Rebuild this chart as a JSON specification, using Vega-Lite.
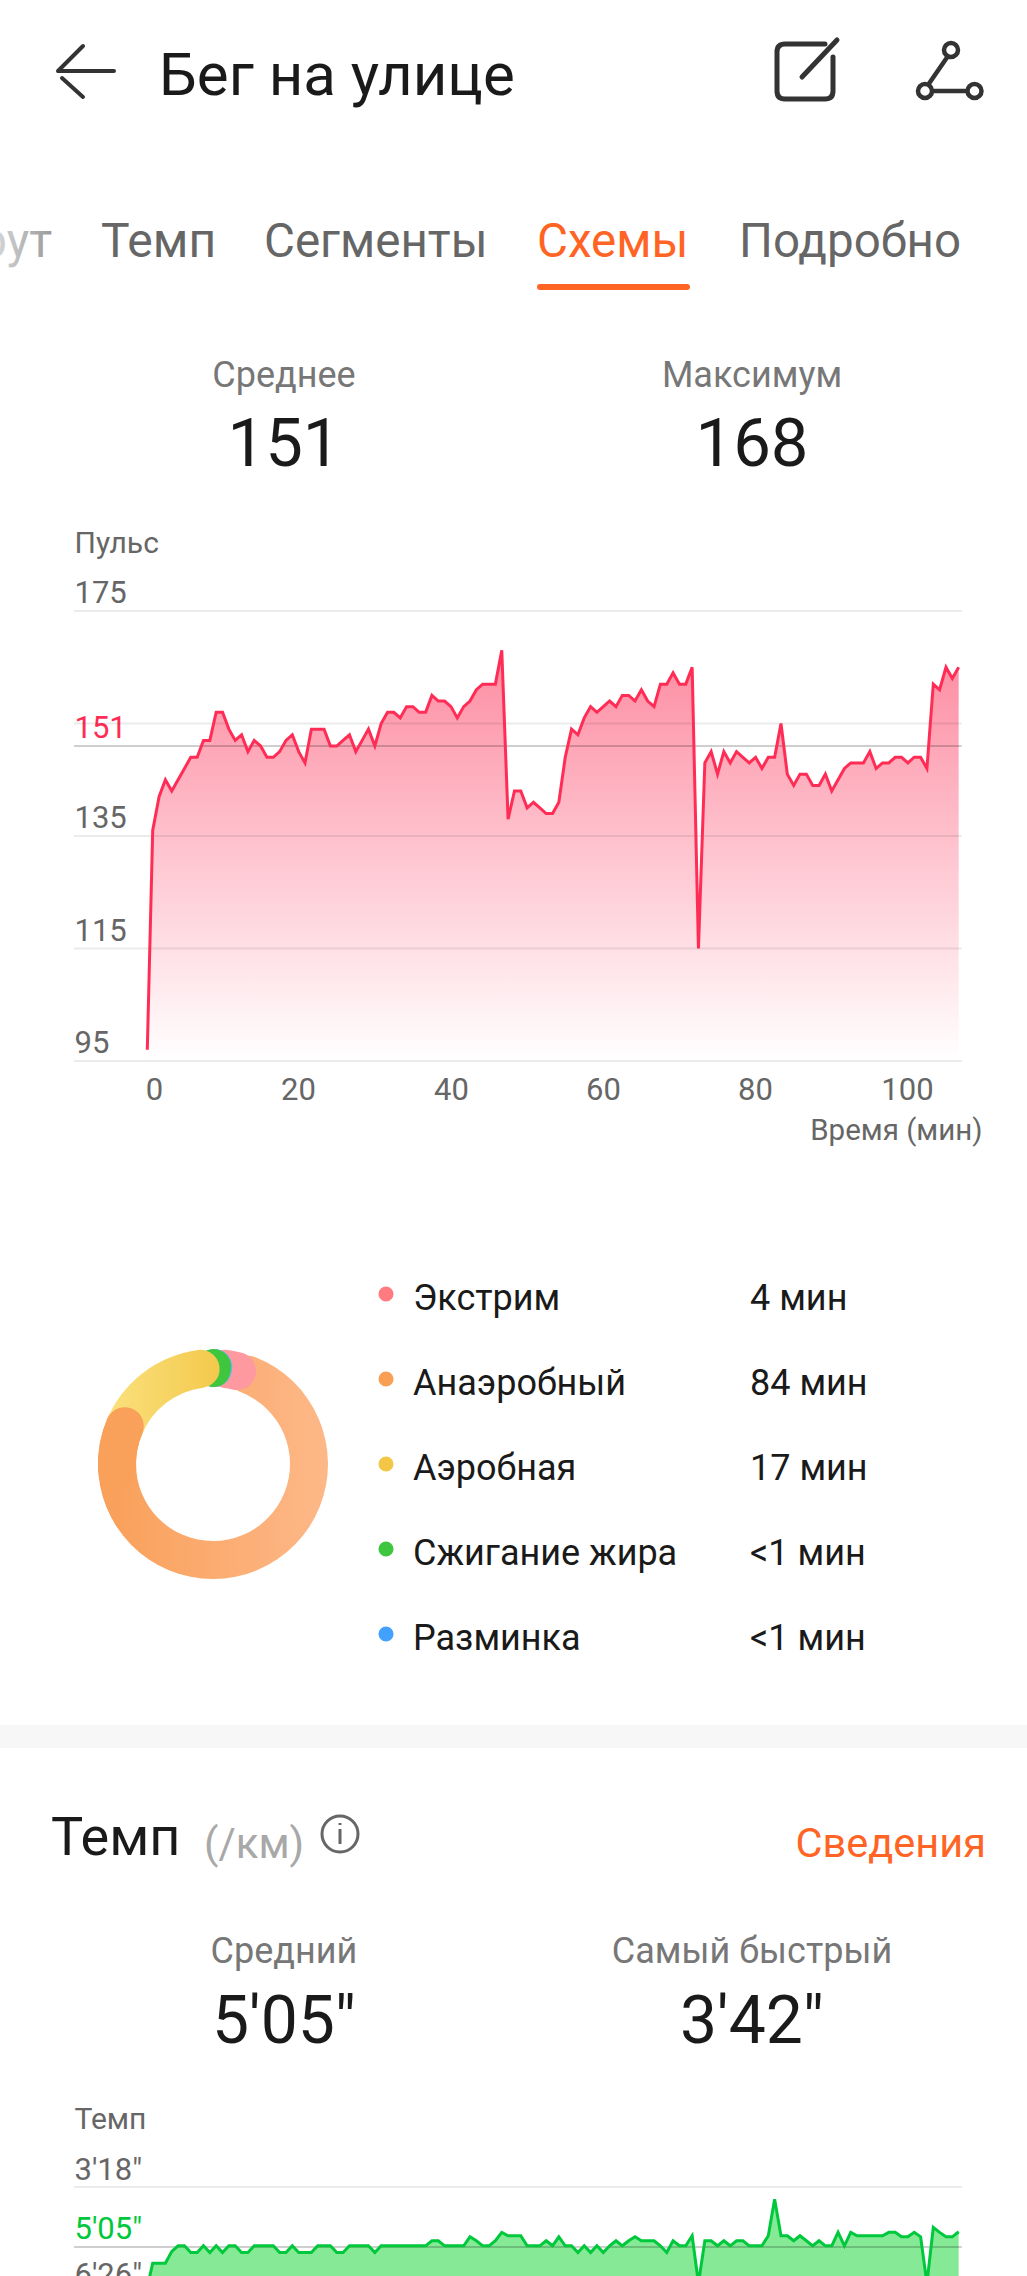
{
  "$schema": "https://vega.github.io/schema/vega-lite/v5.json",
  "background": "white",
  "padding": 0,
  "spacing": 0,
  "bounds": "flush",
  "resolve": {"scale": {"color": "independent"}},
  "config": {"view": {"stroke": null}, "font": "Roboto", "concat": {"spacing": 0}},
  "datasets": {
    "kpi1": [{"metric": "Среднее", "value": "151"}, {"metric": "Максимум", "value": "168"}],
    "kpi2": [{"metric": "Средний", "value": "5'05\""}, {"metric": "Самый быстрый", "value": "3'42\""}],
    "pulseLines": [
      {"level": 175, "kind": "grid"}, {"level": 155, "kind": "grid"}, {"level": 135, "kind": "grid"},
      {"level": 115, "kind": "grid"}, {"level": 95, "kind": "grid"}, {"level": 151, "kind": "avg"}
    ],
    "paceLines": [{"level": 198, "kind": "grid"}, {"level": 305, "kind": "avg"}],
    "arcs": [
      {"zone": "Анаэробный", "part": "main", "from": 10, "to": 304.6},
      {"zone": "Экстрим", "part": "main", "from": -4, "to": 26},
      {"zone": "Разминка", "part": "main", "from": -10, "to": 11.5},
      {"zone": "Сжигание жира", "part": "main", "from": -10, "to": 10.7},
      {"zone": "Аэробная", "part": "main", "from": -80, "to": 4},
      {"zone": "Анаэробный", "part": "cap", "from": 255, "to": 304.6}
    ],
    "zones": [
      {"zone": "Экстрим", "time": "4 мин"},
      {"zone": "Анаэробный", "time": "84 мин"},
      {"zone": "Аэробная", "time": "17 мин"},
      {"zone": "Сжигание жира", "time": "<1 мин"},
      {"zone": "Разминка", "time": "<1 мин"}
    ],
    "pulse": [
      {"t":0.04,"pulse":97},{"t":0.75,"pulse":136},{"t":1.59,"pulse":142},{"t":2.42,"pulse":145},{"t":3.26,"pulse":143},{"t":4.09,"pulse":145},{"t":4.93,"pulse":147},{"t":5.76,"pulse":149},{"t":6.6,"pulse":149},{"t":7.43,"pulse":152},{"t":8.27,"pulse":152},{"t":9.1,"pulse":157},{"t":9.94,"pulse":157},{"t":10.77,"pulse":154},{"t":11.61,"pulse":152},{"t":12.44,"pulse":153},{"t":13.28,"pulse":150},{"t":14.11,"pulse":152},{"t":14.95,"pulse":151},{"t":15.78,"pulse":149},{"t":16.62,"pulse":149},{"t":17.45,"pulse":150},{"t":18.29,"pulse":152},{"t":19.12,"pulse":153},{"t":19.96,"pulse":150},{"t":20.79,"pulse":148},{"t":21.63,"pulse":154},{"t":22.46,"pulse":154},{"t":23.3,"pulse":154},{"t":24.13,"pulse":151},{"t":24.97,"pulse":151},{"t":25.8,"pulse":152},{"t":26.64,"pulse":153},{"t":27.47,"pulse":150},{"t":28.31,"pulse":152},{"t":29.14,"pulse":154},{"t":29.98,"pulse":151},{"t":30.81,"pulse":155},{"t":31.65,"pulse":157},{"t":32.48,"pulse":157},{"t":33.32,"pulse":156},{"t":34.15,"pulse":158},{"t":34.99,"pulse":158},{"t":35.82,"pulse":157},{"t":36.66,"pulse":157},{"t":37.49,"pulse":160},{"t":38.33,"pulse":159},{"t":39.16,"pulse":159},{"t":40.0,"pulse":158},{"t":40.83,"pulse":156},{"t":41.67,"pulse":158},{"t":42.5,"pulse":159},{"t":43.34,"pulse":161},{"t":44.17,"pulse":162},{"t":45.01,"pulse":162},{"t":45.84,"pulse":162},{"t":46.68,"pulse":168},{"t":47.51,"pulse":138},{"t":48.35,"pulse":143},{"t":49.18,"pulse":143},{"t":50.02,"pulse":140},{"t":50.85,"pulse":141},{"t":51.69,"pulse":140},{"t":52.52,"pulse":139},{"t":53.36,"pulse":139},{"t":54.19,"pulse":141},{"t":55.03,"pulse":149},{"t":55.86,"pulse":154},{"t":56.7,"pulse":153},{"t":57.53,"pulse":156},{"t":58.37,"pulse":158},{"t":59.2,"pulse":157},{"t":60.04,"pulse":158},{"t":60.87,"pulse":159},{"t":61.71,"pulse":158},{"t":62.54,"pulse":160},{"t":63.38,"pulse":160},{"t":64.21,"pulse":159},{"t":65.05,"pulse":161},{"t":65.88,"pulse":159},{"t":66.72,"pulse":158},{"t":67.55,"pulse":162},{"t":68.39,"pulse":162},{"t":69.22,"pulse":164},{"t":70.06,"pulse":162},{"t":70.89,"pulse":162},{"t":71.73,"pulse":165},{"t":72.56,"pulse":115},{"t":73.4,"pulse":148},{"t":74.23,"pulse":150},{"t":75.07,"pulse":146},{"t":75.9,"pulse":150},{"t":76.74,"pulse":148},{"t":77.57,"pulse":150},{"t":78.41,"pulse":149},{"t":79.24,"pulse":148},{"t":80.08,"pulse":149},{"t":80.91,"pulse":147},{"t":81.75,"pulse":149},{"t":82.58,"pulse":149},{"t":83.42,"pulse":155},{"t":84.25,"pulse":146},{"t":85.09,"pulse":144},{"t":85.92,"pulse":146},{"t":86.76,"pulse":146},{"t":87.59,"pulse":144},{"t":88.43,"pulse":144},{"t":89.26,"pulse":146},{"t":90.1,"pulse":143},{"t":90.93,"pulse":145},{"t":91.77,"pulse":147},{"t":92.6,"pulse":148},{"t":93.44,"pulse":148},{"t":94.27,"pulse":148},{"t":95.11,"pulse":150},{"t":95.94,"pulse":147},{"t":96.78,"pulse":148},{"t":97.61,"pulse":148},{"t":98.45,"pulse":149},{"t":99.28,"pulse":149},{"t":100.12,"pulse":148},{"t":100.95,"pulse":149},{"t":101.79,"pulse":149},{"t":102.62,"pulse":147},{"t":103.46,"pulse":162},{"t":104.29,"pulse":161},{"t":105.13,"pulse":165},{"t":105.96,"pulse":163},{"t":106.8,"pulse":165}
    ],
    "pace": [
      {"t":0.32,"pace":360},{"t":0.75,"pace":334},{"t":1.59,"pace":334},{"t":2.42,"pace":334},{"t":3.26,"pace":313},{"t":4.09,"pace":303},{"t":4.93,"pace":303},{"t":5.76,"pace":315},{"t":6.6,"pace":315},{"t":7.43,"pace":303},{"t":8.27,"pace":315},{"t":9.1,"pace":303},{"t":9.94,"pace":315},{"t":10.77,"pace":303},{"t":11.61,"pace":303},{"t":12.44,"pace":315},{"t":13.28,"pace":315},{"t":14.11,"pace":303},{"t":14.95,"pace":303},{"t":15.78,"pace":303},{"t":16.62,"pace":303},{"t":17.45,"pace":315},{"t":18.29,"pace":315},{"t":19.12,"pace":303},{"t":19.96,"pace":315},{"t":20.79,"pace":315},{"t":21.63,"pace":315},{"t":22.46,"pace":303},{"t":23.3,"pace":303},{"t":24.13,"pace":303},{"t":24.97,"pace":315},{"t":25.8,"pace":315},{"t":26.64,"pace":303},{"t":27.47,"pace":303},{"t":28.31,"pace":303},{"t":29.14,"pace":303},{"t":29.98,"pace":315},{"t":30.81,"pace":303},{"t":31.65,"pace":303},{"t":32.48,"pace":303},{"t":33.32,"pace":303},{"t":34.15,"pace":303},{"t":34.99,"pace":303},{"t":35.82,"pace":303},{"t":36.66,"pace":303},{"t":37.49,"pace":294},{"t":38.33,"pace":294},{"t":39.16,"pace":303},{"t":40.0,"pace":303},{"t":40.83,"pace":303},{"t":41.67,"pace":303},{"t":42.5,"pace":287},{"t":43.34,"pace":294},{"t":44.17,"pace":303},{"t":45.01,"pace":303},{"t":45.84,"pace":294},{"t":46.68,"pace":279},{"t":47.51,"pace":285},{"t":48.35,"pace":285},{"t":49.18,"pace":285},{"t":50.02,"pace":303},{"t":50.85,"pace":303},{"t":51.69,"pace":303},{"t":52.52,"pace":294},{"t":53.36,"pace":303},{"t":54.19,"pace":287},{"t":55.03,"pace":303},{"t":55.86,"pace":303},{"t":56.7,"pace":315},{"t":57.53,"pace":303},{"t":58.37,"pace":315},{"t":59.2,"pace":303},{"t":60.04,"pace":315},{"t":60.87,"pace":303},{"t":61.71,"pace":294},{"t":62.54,"pace":303},{"t":63.38,"pace":294},{"t":64.21,"pace":287},{"t":65.05,"pace":294},{"t":65.88,"pace":294},{"t":66.72,"pace":294},{"t":67.55,"pace":303},{"t":68.39,"pace":315},{"t":69.22,"pace":294},{"t":70.06,"pace":303},{"t":70.89,"pace":303},{"t":71.73,"pace":285},{"t":72.56,"pace":370},{"t":73.4,"pace":294},{"t":74.23,"pace":294},{"t":75.07,"pace":303},{"t":75.9,"pace":294},{"t":76.74,"pace":303},{"t":77.57,"pace":294},{"t":78.41,"pace":294},{"t":79.24,"pace":303},{"t":80.08,"pace":303},{"t":80.91,"pace":303},{"t":81.75,"pace":285},{"t":82.58,"pace":220},{"t":83.42,"pace":285},{"t":84.25,"pace":285},{"t":85.09,"pace":294},{"t":85.92,"pace":285},{"t":86.76,"pace":294},{"t":87.59,"pace":303},{"t":88.43,"pace":294},{"t":89.26,"pace":303},{"t":90.1,"pace":303},{"t":90.93,"pace":279},{"t":91.77,"pace":303},{"t":92.6,"pace":279},{"t":93.44,"pace":285},{"t":94.27,"pace":285},{"t":95.11,"pace":285},{"t":95.94,"pace":285},{"t":96.78,"pace":285},{"t":97.61,"pace":279},{"t":98.45,"pace":279},{"t":99.28,"pace":287},{"t":100.12,"pace":287},{"t":100.95,"pace":279},{"t":101.79,"pace":287},{"t":102.62,"pace":370},{"t":103.46,"pace":270},{"t":104.29,"pace":279},{"t":105.13,"pace":287},{"t":105.96,"pace":287},{"t":106.8,"pace":278}
    ]
  },
  "vconcat": [
    {
      "width": 1027,
      "height": 520,
      "layer": [
        {"data": {"values": [{"icon": "back"}]}, "mark": {"type": "point", "filled": false, "opacity": 1, "shape": "M-.28,0 L.28,0 M-.03,-.25 L-.28,0 M-.24,.07 L-.03,.26", "size": 40000, "stroke": "#333333", "strokeWidth": 4, "strokeCap": "round"}, "encoding": {"x": {"value": 86}, "y": {"value": 71}}},
        {"data": {"values": [{"icon": "edit"}]}, "mark": {"type": "point", "filled": false, "opacity": 1, "shape": "M.2,-.27 L-.2,-.27 Q-.28,-.27 -.28,-.19 L-.28,.2 Q-.28,.28 -.2,.28 L.2,.28 Q.28,.28 .28,.2 L.28,-.14 M.32,-.31 L-.03,.06", "size": 40000, "stroke": "#333333", "strokeWidth": 5, "strokeCap": "round"}, "encoding": {"x": {"value": 805}, "y": {"value": 71}}},
        {"data": {"values": [{"icon": "share"}]}, "mark": {"type": "point", "filled": false, "opacity": 1, "shape": "M.08,-.21 A.07,.07 0 1 1 -.06,-.21 A.07,.07 0 1 1 .08,-.21 M-.18,.2 A.07,.07 0 1 1 -.32,.2 A.07,.07 0 1 1 -.18,.2 M.315,.2 A.07,.07 0 1 1 .175,.2 A.07,.07 0 1 1 .315,.2 M-.02,-.15 L-.22,.14 M-.18,.2 L.175,.2", "size": 40000, "stroke": "#333333", "strokeWidth": 4.5}, "encoding": {"x": {"value": 950}, "y": {"value": 71}}},
        {"data": {"values": [{"label": "Бег на улице"}]}, "mark": {"type": "text", "fontSize": 60, "color": "#1a1a1a", "align": "left", "baseline": "middle"}, "encoding": {"text": {"field": "label"}, "x": {"value": 159}, "y": {"value": 77}}},
        {"data": {"values": [{"label": "рут"}]}, "mark": {"type": "text", "clip": true, "fontSize": 47.5, "align": "right", "baseline": "middle", "color": {"x1": 0, "y1": 0, "x2": 1, "y2": 0, "gradient": "linear", "stops": [{"offset": 0, "color": "#e6e6e6"}, {"offset": 1, "color": "#9a9a9a"}]}}, "encoding": {"text": {"field": "label"}, "x": {"value": 52}, "y": {"value": 243}}},
        {"data": {"values": [{"label": "Темп"}]}, "mark": {"type": "text", "fontSize": 48, "color": "#666666", "align": "left", "baseline": "middle"}, "encoding": {"text": {"field": "label"}, "x": {"value": 101}, "y": {"value": 243}}},
        {"data": {"values": [{"label": "Сегменты"}]}, "mark": {"type": "text", "fontSize": 47.5, "color": "#666666", "align": "left", "baseline": "middle"}, "encoding": {"text": {"field": "label"}, "x": {"value": 264}, "y": {"value": 243}}},
        {"data": {"values": [{"label": "Схемы"}]}, "mark": {"type": "text", "fontSize": 47.5, "color": "#ff6424", "align": "left", "baseline": "middle"}, "encoding": {"text": {"field": "label"}, "x": {"value": 537}, "y": {"value": 243}}},
        {"data": {"values": [{"label": "Подробно"}]}, "mark": {"type": "text", "fontSize": 47.5, "color": "#666666", "align": "left", "baseline": "middle"}, "encoding": {"text": {"field": "label"}, "x": {"value": 739}, "y": {"value": 243}}},
        {"data": {"values": [{"label": "Схемы"}]}, "mark": {"type": "rule", "color": "#ff6424", "strokeWidth": 6, "strokeCap": "round"}, "encoding": {"x": {"value": 540}, "x2": {"value": 687}, "y": {"value": 287}}},
        {"data": {"name": "kpi1"}, "mark": {"type": "text", "fontSize": 36, "color": "#777777", "baseline": "middle"}, "encoding": {"text": {"field": "metric"}, "x": {"field": "metric", "type": "nominal", "sort": null, "axis": null, "scale": {"type": "point", "domain": ["Среднее", "Максимум"], "range": [284, 752], "padding": 0}}, "y": {"value": 376}}},
        {"data": {"name": "kpi1"}, "mark": {"type": "text", "fontSize": 67, "color": "#1a1a1a", "baseline": "middle"}, "encoding": {"text": {"field": "value"}, "x": {"field": "metric", "type": "nominal", "sort": null, "axis": null, "scale": {"type": "point", "domain": ["Среднее", "Максимум"], "range": [284, 752], "padding": 0}}, "y": {"value": 446}}}
      ]
    },
    {
      "width": 1027,
      "height": 541,
      "resolve": {"axis": {"x": "independent", "y": "independent"}},
      "layer": [
        {
          "data": {"name": "pulse"},
          "mark": {"type": "area", "line": false, "color": {"x1": 0, "y1": 0, "x2": 0, "y2": 1, "gradient": "linear", "stops": [{"offset": 0, "color": "#fd7f97"}, {"offset": 1, "color": "#ffffff"}]}, "opacity": 0.9},
          "encoding": {
            "x": {"field": "t", "type": "quantitative", "axis": null, "scale": {"domain": [-19.342, 115.789], "nice": false, "zero": false}},
            "y": {"field": "pulse", "type": "quantitative", "axis": null, "scale": {"domain": [95, 191.178], "nice": false, "zero": false}},
            "y2": {"datum": 95}
          }
        },
        {
          "data": {"name": "pulseLines"},
          "mark": {"type": "rule", "strokeWidth": 2},
          "encoding": {
            "x": {"datum": -9.6, "type": "quantitative", "axis": null, "scale": {"domain": [-19.342, 115.789], "nice": false, "zero": false}},
            "x2": {"datum": 107.2},
            "y": {"field": "level", "type": "quantitative", "axis": null, "scale": {"domain": [95, 191.178], "nice": false, "zero": false}},
            "color": {"field": "kind", "type": "nominal", "legend": null, "scale": {"domain": ["grid", "avg"], "range": ["#00000014", "#00000030"]}}
          }
        },
        {
          "data": {"name": "pulse"},
          "mark": {"type": "line", "color": "#ff2d55", "strokeWidth": 3, "strokeJoin": "miter"},
          "encoding": {
            "x": {
              "field": "t", "type": "quantitative",
              "scale": {"domain": [-19.342, 115.789], "nice": false, "zero": false},
              "axis": {"values": [0, 20, 40, 60, 80, 100], "domain": false, "ticks": false, "grid": false, "labelFontSize": 31, "labelColor": "#666666", "labelPadding": 14, "labelFlush": false, "labelOverlap": false, "labelOffset": {"expr": "datum.value == 0 ? 7 : datum.value == 20 ? -1 : 0"}, "title": "Время (мин)", "titleFontSize": 29.5, "titleFontWeight": "normal", "titleColor": "#666666", "titleAlign": "right", "titleBaseline": "middle", "titleX": 982, "titleY": 69}
            },
            "y": {
              "field": "pulse", "type": "quantitative",
              "scale": {"domain": [95, 191.178], "nice": false, "zero": false},
              "axis": {"values": [175, 151, 135, 115, 95], "domain": false, "ticks": false, "grid": false, "labelFontSize": 31, "labelAlign": "left", "labelBaseline": "middle", "labelPadding": -74, "labelOffset": -17.5, "labelFlush": false, "labelOverlap": false, "labelColor": {"condition": {"test": "datum.value == 151", "value": "#ff2d55"}, "value": "#666666"}, "title": "Пульс", "titleAngle": 0, "titleFontSize": 30, "titleFontWeight": "normal", "titleColor": "#666666", "titleAlign": "left", "titleBaseline": "middle", "titleX": 74, "titleY": 23}
            }
          }
        }
      ]
    },
    {
      "width": 1027,
      "height": 664,
      "layer": [
        {"data": {"name": "arcs"}, "transform": [{"filter": "datum.zone == 'Анаэробный' && datum.part == 'main'"}], "mark": {"type": "arc", "radius": 115, "radius2": 77, "cornerRadius": 19, "color": {"x1": 0, "y1": 0, "x2": 1, "y2": 0, "gradient": "linear", "stops": [{"offset": 0, "color": "#f99f58"}, {"offset": 1, "color": "#fdb888"}]}}, "encoding": {"theta": {"field": "from", "type": "quantitative", "stack": null, "scale": {"domain": [0, 360], "range": [0, 6.283185]}}, "theta2": {"field": "to"}, "x": {"value": 213}, "y": {"value": 403}}},
        {"data": {"name": "arcs"}, "transform": [{"filter": "datum.zone == 'Экстрим'"}], "mark": {"type": "arc", "radius": 115, "radius2": 77, "cornerRadius": 19, "color": "#fe9a9f"}, "encoding": {"theta": {"field": "from", "type": "quantitative", "stack": null, "scale": {"domain": [0, 360], "range": [0, 6.283185]}}, "theta2": {"field": "to"}, "x": {"value": 213}, "y": {"value": 403}}},
        {"data": {"name": "arcs"}, "transform": [{"filter": "datum.zone == 'Разминка'"}], "mark": {"type": "arc", "radius": 115, "radius2": 77, "cornerRadius": 19, "color": "#6fb4e8"}, "encoding": {"theta": {"field": "from", "type": "quantitative", "stack": null, "scale": {"domain": [0, 360], "range": [0, 6.283185]}}, "theta2": {"field": "to"}, "x": {"value": 213}, "y": {"value": 403}}},
        {"data": {"name": "arcs"}, "transform": [{"filter": "datum.zone == 'Сжигание жира'"}], "mark": {"type": "arc", "radius": 115, "radius2": 77, "cornerRadius": 19, "color": "#3fc63f"}, "encoding": {"theta": {"field": "from", "type": "quantitative", "stack": null, "scale": {"domain": [0, 360], "range": [0, 6.283185]}}, "theta2": {"field": "to"}, "x": {"value": 213}, "y": {"value": 403}}},
        {"data": {"name": "arcs"}, "transform": [{"filter": "datum.zone == 'Аэробная'"}], "mark": {"type": "arc", "radius": 115, "radius2": 77, "cornerRadius": 19, "color": {"x1": 0, "y1": 0, "x2": 1, "y2": 0, "gradient": "linear", "stops": [{"offset": 0, "color": "#fbe17f"}, {"offset": 1, "color": "#f3c94c"}]}}, "encoding": {"theta": {"field": "from", "type": "quantitative", "stack": null, "scale": {"domain": [0, 360], "range": [0, 6.283185]}}, "theta2": {"field": "to"}, "x": {"value": 213}, "y": {"value": 403}}},
        {"data": {"name": "arcs"}, "transform": [{"filter": "datum.part == 'cap'"}], "mark": {"type": "arc", "radius": 115, "radius2": 77, "cornerRadius": 19, "color": "#f9a05a"}, "encoding": {"theta": {"field": "from", "type": "quantitative", "stack": null, "scale": {"domain": [0, 360], "range": [0, 6.283185]}}, "theta2": {"field": "to"}, "x": {"value": 213}, "y": {"value": 403}}},
        {
          "data": {"name": "zones"},
          "mark": {"type": "circle", "size": 227, "opacity": 1},
          "encoding": {
            "x": {"value": 386},
            "y": {"field": "zone", "type": "nominal", "sort": null, "axis": null, "scale": {"type": "point", "domain": ["Экстрим", "Анаэробный", "Аэробная", "Сжигание жира", "Разминка"], "range": [233, 573], "padding": 0}},
            "color": {"field": "zone", "type": "nominal", "legend": null, "scale": {"domain": ["Экстрим", "Анаэробный", "Аэробная", "Сжигание жира", "Разминка"], "range": ["#ff7b80", "#f99f53", "#f4c646", "#3fc63f", "#42a0ff"]}}
          }
        },
        {
          "data": {"name": "zones"},
          "mark": {"type": "text", "fontSize": 36, "color": "#1a1a1a", "align": "left", "baseline": "middle", "dy": 5},
          "encoding": {
            "text": {"field": "zone"},
            "x": {"value": 413},
            "y": {"field": "zone", "type": "nominal", "sort": null, "axis": null, "scale": {"type": "point", "domain": ["Экстрим", "Анаэробный", "Аэробная", "Сжигание жира", "Разминка"], "range": [233, 573], "padding": 0}}
          }
        },
        {
          "data": {"name": "zones"},
          "mark": {"type": "text", "fontSize": 36, "color": "#1a1a1a", "align": "left", "baseline": "middle", "dy": 5},
          "encoding": {
            "text": {"field": "time"},
            "x": {"value": 750},
            "y": {"field": "zone", "type": "nominal", "sort": null, "axis": null, "scale": {"type": "point", "domain": ["Экстрим", "Анаэробный", "Аэробная", "Сжигание жира", "Разминка"], "range": [233, 573], "padding": 0}}
          }
        }
      ]
    },
    {
      "width": 1027,
      "height": 23,
      "view": {"fill": "#f7f7f7", "stroke": null},
      "data": {"values": [{"section": "divider"}]},
      "mark": {"type": "text", "text": ""},
      "encoding": {}
    },
    {
      "width": 1027,
      "height": 352,
      "layer": [
        {"data": {"values": [{"label": "Темп"}]}, "mark": {"type": "text", "fontSize": 54, "color": "#1a1a1a", "align": "left", "baseline": "middle"}, "encoding": {"text": {"field": "label"}, "x": {"value": 51}, "y": {"value": 91}}},
        {"data": {"values": [{"label": "(/км)"}]}, "mark": {"type": "text", "fontSize": 42, "color": "#a8a8a8", "align": "left", "baseline": "middle"}, "encoding": {"text": {"field": "label"}, "x": {"value": 204}, "y": {"value": 97}}},
        {"data": {"values": [{"icon": "info"}]}, "mark": {"type": "point", "filled": false, "opacity": 1, "shape": "M.18,0 A.18,.18 0 1 1 -.18,0 A.18,.18 0 1 1 .18,0 M0,-.05 L0,.1 M0,-.11 L0,-.09", "size": 40000, "stroke": "#666666", "strokeWidth": 3}, "encoding": {"x": {"value": 340}, "y": {"value": 86}}},
        {"data": {"values": [{"label": "Сведения"}]}, "mark": {"type": "text", "fontSize": 41.5, "color": "#ff6424", "align": "right", "baseline": "middle"}, "encoding": {"text": {"field": "label"}, "x": {"value": 986}, "y": {"value": 97}}},
        {"data": {"name": "kpi2"}, "mark": {"type": "text", "fontSize": 36, "color": "#777777", "baseline": "middle"}, "encoding": {"text": {"field": "metric"}, "x": {"field": "metric", "type": "nominal", "sort": null, "axis": null, "scale": {"type": "point", "domain": ["Средний", "Самый быстрый"], "range": [284, 752], "padding": 0}}, "y": {"value": 204}}},
        {"data": {"name": "kpi2"}, "mark": {"type": "text", "fontSize": 66, "color": "#1a1a1a", "baseline": "middle"}, "encoding": {"text": {"field": "value"}, "x": {"field": "metric", "type": "nominal", "sort": null, "axis": null, "scale": {"type": "point", "domain": ["Средний", "Самый быстрый"], "range": [284, 752], "padding": 0}}, "y": {"value": 275}}}
      ]
    },
    {
      "width": 1027,
      "height": 196,
      "resolve": {"axis": {"x": "independent", "y": "independent"}},
      "layer": [
        {
          "data": {"name": "pace"},
          "mark": {"type": "area", "color": "#85e996", "clip": true},
          "encoding": {
            "x": {"field": "t", "type": "quantitative", "axis": null, "scale": {"domain": [-19.342, 115.789], "nice": false, "zero": false}},
            "y": {"field": "pace", "type": "quantitative", "axis": null, "scale": {"domain": [42.64, 392.64], "reverse": true, "nice": false, "zero": false}},
            "y2": {"datum": 392.64}
          }
        },
        {
          "data": {"name": "paceLines"},
          "mark": {"type": "rule", "strokeWidth": 2},
          "encoding": {
            "x": {"datum": -9.6, "type": "quantitative", "axis": null, "scale": {"domain": [-19.342, 115.789], "nice": false, "zero": false}},
            "x2": {"datum": 107.2},
            "y": {"field": "level", "type": "quantitative", "axis": null, "scale": {"domain": [42.64, 392.64], "reverse": true, "nice": false, "zero": false}},
            "color": {"field": "kind", "type": "nominal", "legend": null, "scale": {"domain": ["grid", "avg"], "range": ["#00000014", "#00000030"]}}
          }
        },
        {
          "data": {"name": "pace"},
          "mark": {"type": "line", "color": "#00c83c", "strokeWidth": 3, "strokeJoin": "miter", "clip": true},
          "encoding": {
            "x": {"field": "t", "type": "quantitative", "axis": null, "scale": {"domain": [-19.342, 115.789], "nice": false, "zero": false}},
            "y": {
              "field": "pace", "type": "quantitative",
              "scale": {"domain": [42.64, 392.64], "reverse": true, "nice": false, "zero": false},
              "axis": {"values": [198, 305, 386], "labelExpr": "floor(datum.value / 60) + \"'\" + (datum.value % 60 < 10 ? '0' : '') + (datum.value % 60) + '\"'", "domain": false, "ticks": false, "grid": false, "labelFontSize": 31, "labelAlign": "left", "labelBaseline": "middle", "labelPadding": -74, "labelOffset": -17, "labelFlush": false, "labelOverlap": false, "labelColor": {"condition": {"test": "datum.value == 305", "value": "#00c83c"}, "value": "#666666"}, "title": "Темп", "titleAngle": 0, "titleFontSize": 30, "titleFontWeight": "normal", "titleColor": "#666666", "titleAlign": "left", "titleBaseline": "middle", "titleX": 74, "titleY": 19}
            }
          }
        }
      ]
    }
  ]
}
